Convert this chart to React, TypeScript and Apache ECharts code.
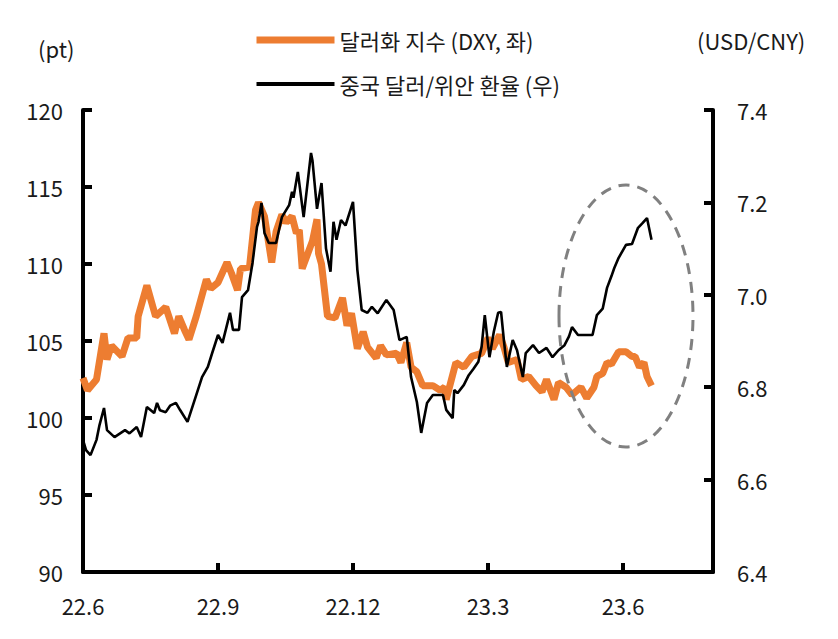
import React, { useEffect, useRef } from "react";
import * as echarts from "echarts";

const xTickLabels = ["22.6", "22.9", "22.12", "23.3", "23.6"];
const dxyName = "달러화 지수 (DXY, 좌)";
const cnyName = "중국 달러/위안 환율 (우)";

const dxyDates = [
  "2022-06-01", "2022-06-04", "2022-06-10", "2022-06-15", "2022-06-17", "2022-06-20", "2022-06-27",
  "2022-07-01", "2022-07-07", "2022-07-08", "2022-07-14", "2022-07-20", "2022-07-27",
  "2022-08-02", "2022-08-05", "2022-08-09", "2022-08-12", "2022-08-17", "2022-08-24", "2022-08-27",
  "2022-09-01", "2022-09-07", "2022-09-10", "2022-09-14", "2022-09-16", "2022-09-22", "2022-09-26", "2022-09-28",
  "2022-10-02", "2022-10-07", "2022-10-10", "2022-10-14", "2022-10-17", "2022-10-21", "2022-10-24", "2022-10-26", "2022-10-28",
  "2022-11-04", "2022-11-07", "2022-11-08", "2022-11-10", "2022-11-14", "2022-11-19", "2022-11-24", "2022-11-27", "2022-11-30",
  "2022-12-04", "2022-12-08", "2022-12-11", "2022-12-17", "2022-12-20", "2022-12-24", "2022-12-31",
  "2023-01-03", "2023-01-07", "2023-01-10", "2023-01-14", "2023-01-18", "2023-01-25", "2023-01-30",
  "2023-02-02", "2023-02-03", "2023-02-09", "2023-02-14", "2023-02-19", "2023-02-25",
  "2023-03-01", "2023-03-04", "2023-03-09", "2023-03-12", "2023-03-15", "2023-03-21", "2023-03-24", "2023-03-29",
  "2023-04-03", "2023-04-07", "2023-04-10", "2023-04-15", "2023-04-18", "2023-04-23", "2023-04-27",
  "2023-05-03", "2023-05-07", "2023-05-12", "2023-05-14", "2023-05-18", "2023-05-21", "2023-05-24", "2023-05-29",
  "2023-06-03", "2023-06-07", "2023-06-09", "2023-06-12", "2023-06-15", "2023-06-17", "2023-06-20",
];
const dxyValues = [
  102.6, 101.8, 102.5, 105.5, 103.8, 104.7, 104.0,
  105.2, 105.2, 106.6, 108.6, 106.6, 107.2,
  105.5, 106.6, 105.7, 105.1, 106.6, 109.0, 108.4,
  108.8, 110.1, 109.4, 108.3, 109.7, 109.8, 113.5, 114.0,
  113.1, 110.1, 112.1, 113.2, 112.7, 113.1, 112.0, 112.2, 109.7,
  111.5, 112.9, 110.7, 110.0, 106.6, 106.5, 107.8, 106.0, 106.8,
  104.5, 105.6, 104.6, 103.9, 104.7, 104.1, 104.2,
  103.6, 104.9, 103.3, 103.0, 102.1, 102.1, 101.8,
  102.0, 101.2, 103.6, 103.3, 104.0, 104.2,
  105.2, 104.5, 105.4, 104.6, 103.6, 103.8, 102.5, 102.7,
  102.1, 101.7, 102.5, 101.2, 102.3, 102.0, 101.5,
  102.0, 101.3, 102.0, 102.7, 102.9, 103.6, 103.5, 104.3,
  104.3, 104.0, 104.0, 103.3, 103.6, 102.7, 102.1,
];

const cnyDates = [
  "2022-06-01", "2022-06-03", "2022-06-06", "2022-06-10", "2022-06-12", "2022-06-15", "2022-06-17", "2022-06-22", "2022-06-29",
  "2022-07-02", "2022-07-07", "2022-07-10", "2022-07-14", "2022-07-19", "2022-07-21", "2022-07-23", "2022-07-27", "2022-07-30",
  "2022-08-03", "2022-08-06", "2022-08-11", "2022-08-17", "2022-08-21", "2022-08-25", "2022-08-28",
  "2022-09-01", "2022-09-04", "2022-09-09", "2022-09-11", "2022-09-15", "2022-09-17", "2022-09-21", "2022-09-24", "2022-09-27", "2022-09-28", "2022-09-30",
  "2022-10-02", "2022-10-05", "2022-10-10", "2022-10-14", "2022-10-19", "2022-10-21", "2022-10-22", "2022-10-25", "2022-10-29",
  "2022-11-03", "2022-11-04", "2022-11-07", "2022-11-10", "2022-11-13", "2022-11-16", "2022-11-18", "2022-11-20", "2022-11-23", "2022-11-26",
  "2022-12-01", "2022-12-04", "2022-12-07", "2022-12-11", "2022-12-14", "2022-12-18", "2022-12-24", "2022-12-29",
  "2023-01-02", "2023-01-07", "2023-01-10", "2023-01-14", "2023-01-17", "2023-01-21", "2023-01-25",
  "2023-02-01", "2023-02-03", "2023-02-07", "2023-02-08", "2023-02-10", "2023-02-14", "2023-02-17", "2023-02-20", "2023-02-23", "2023-02-25", "2023-02-27",
  "2023-03-02", "2023-03-05", "2023-03-08", "2023-03-10", "2023-03-12", "2023-03-14", "2023-03-18", "2023-03-21", "2023-03-25", "2023-03-27",
  "2023-04-01", "2023-04-05", "2023-04-10", "2023-04-14", "2023-04-18", "2023-04-22", "2023-04-25", "2023-04-27",
  "2023-05-01", "2023-05-11", "2023-05-14", "2023-05-18", "2023-05-21", "2023-05-24", "2023-05-26", "2023-05-29",
  "2023-06-03", "2023-06-07", "2023-06-11", "2023-06-14", "2023-06-17", "2023-06-20",
];
const cnyValues = [
  6.686, 6.664, 6.653, 6.686, 6.718, 6.755, 6.707, 6.692, 6.707,
  6.700, 6.714, 6.692, 6.757, 6.744, 6.766, 6.750, 6.746, 6.760,
  6.766, 6.750, 6.725, 6.783, 6.822, 6.844, 6.874,
  6.913, 6.896, 6.961, 6.924, 6.924, 6.995, 7.010, 7.069, 7.147, 7.158, 7.199,
  7.134, 7.112, 7.112, 7.168, 7.194, 7.223, 7.210, 7.266, 7.168,
  7.307, 7.290, 7.186, 7.242, 7.100, 7.050, 7.158, 7.119, 7.162, 7.150,
  7.201, 7.054, 6.967, 6.961, 6.974, 6.960, 6.989, 6.967,
  6.902, 6.909, 6.822, 6.768, 6.701, 6.766, 6.783,
  6.783, 6.751, 6.733, 6.794, 6.787, 6.805, 6.826, 6.840, 6.855, 6.887, 6.956,
  6.865, 6.920, 6.961, 6.963, 6.900, 6.844, 6.902, 6.880, 6.822, 6.874,
  6.891, 6.874, 6.885, 6.865, 6.880, 6.891, 6.910, 6.930,
  6.913, 6.913, 6.956, 6.970, 7.015, 7.040, 7.058, 7.080,
  7.108, 7.110, 7.145, 7.155, 7.166, 7.119,
];

function toMonths(d: string): number {
  const [y, m, day] = d.split("-").map(Number);
  const dim = new Date(y, m, 0).getDate();
  return (y - 2022) * 12 + (m - 6) + (day - 1) / dim;
}

const FONT = "Noto Sans CJK KR";

export default function App() {
  const ref = useRef<HTMLDivElement>(null);
  useEffect(() => {
    if (!ref.current) return;
    const chart = echarts.init(ref.current, undefined, { renderer: "svg" });
    const axisLine = { show: true, lineStyle: { color: "#000", width: 4 } };
    const axisTick = { show: true, inside: true, length: 9, lineStyle: { color: "#000", width: 4 } };
    const labelStyle = { color: "#1a1a1a", fontSize: 22, fontFamily: FONT };
    chart.setOption({
      animation: false,
      textStyle: { fontFamily: FONT },
      grid: { left: 83, right: 125, top: 110, bottom: 67, containLabel: false },
      legend: {
        orient: "vertical",
        left: 253,
        top: 29,
        padding: 0,
        itemWidth: 78,
        itemHeight: 20,
        itemGap: 22,
        textStyle: { fontSize: 22, color: "#1a1a1a", fontFamily: FONT },
        data: [
          { name: dxyName, lineStyle: { width: 7 }, itemStyle: { opacity: 0 } },
          { name: cnyName, lineStyle: { width: 4 }, itemStyle: { opacity: 0 } },
        ],
      },
      xAxis: {
        type: "value",
        min: 0,
        max: 14,
        interval: 3,
        axisLine,
        axisTick,
        splitLine: { show: false },
        axisLabel: {
          ...labelStyle,
          margin: 22,
          showMaxLabel: false,
          formatter: (v: number) => {
            const i = Math.round(v / 3);
            return Math.abs(v - i * 3) < 1e-6 && i < xTickLabels.length ? xTickLabels[i] : "";
          },
        },
      },
      yAxis: [
        {
          type: "value",
          position: "left",
          min: 90,
          max: 120,
          interval: 5,
          axisLine,
          axisTick,
          splitLine: { show: false },
          axisLabel: { ...labelStyle, margin: 20 },
        },
        {
          type: "value",
          position: "right",
          min: 6.4,
          max: 7.4,
          interval: 0.2,
          axisLine,
          axisTick,
          splitLine: { show: false },
          axisLabel: { ...labelStyle, margin: 24, formatter: (v: number) => v.toFixed(1) },
        },
      ],
      graphic: [
        { type: "text", left: 38, top: 37, style: { text: "(pt)", fontSize: 22, fill: "#1a1a1a", fontFamily: FONT } },
        { type: "text", left: 697, top: 29, style: { text: "(USD/CNY)", fontSize: 22, fill: "#1a1a1a", fontFamily: FONT } },
        {
          type: "ellipse",
          shape: { cx: 626, cy: 316, rx: 67, ry: 131 },
          style: { fill: "none", stroke: "#808080", lineWidth: 3, lineDash: [11, 8] },
          z: 100,
        },
      ],
      series: [
        {
          name: dxyName,
          type: "line",
          yAxisIndex: 0,
          symbol: "none",
          lineStyle: { color: "#ED7D31", width: 7 },
          itemStyle: { color: "#ED7D31" },
          data: dxyDates.map((d, i) => [toMonths(d), dxyValues[i]]),
        },
        {
          name: cnyName,
          type: "line",
          yAxisIndex: 1,
          symbol: "none",
          lineStyle: { color: "#000", width: 2.6 },
          itemStyle: { color: "#000" },
          data: cnyDates.map((d, i) => [toMonths(d), cnyValues[i]]),
        },
      ],
    });
    return () => chart.dispose();
  }, []);
  return <div ref={ref} style={{ width: 838, height: 639, position: "absolute", left: 0, top: 0 }} />;
}
